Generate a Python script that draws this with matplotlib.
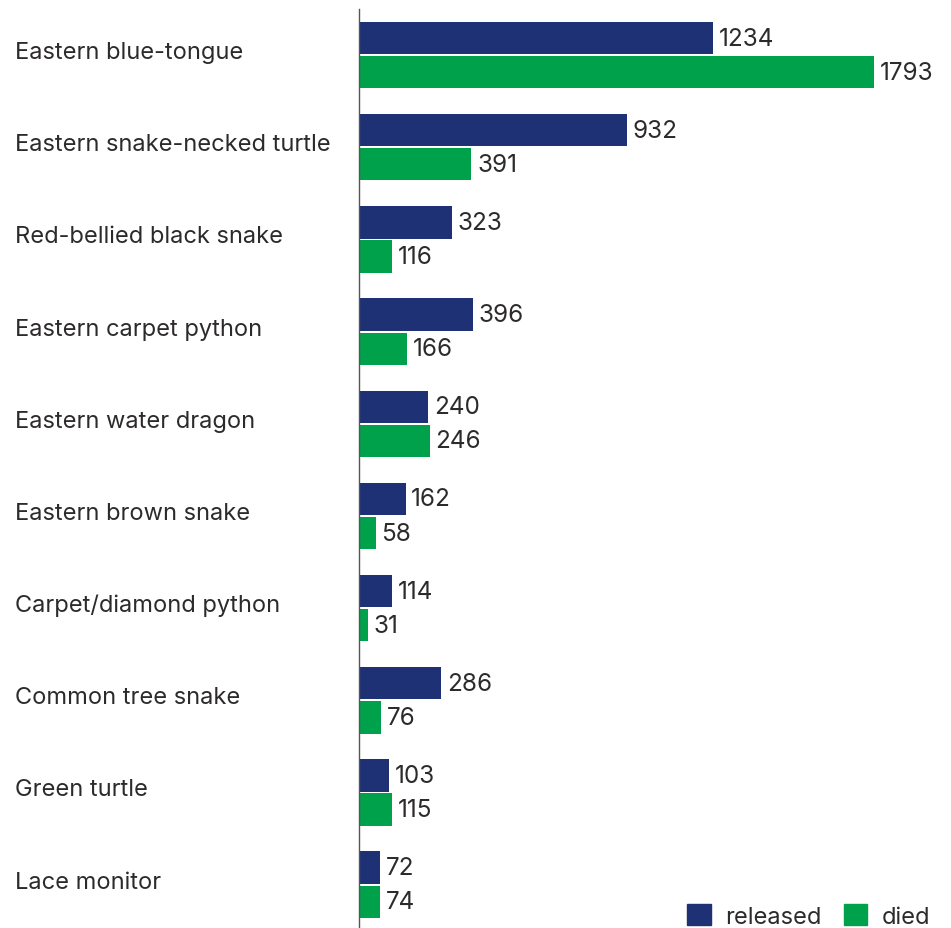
import numpy as np
import matplotlib.pyplot as plt
from matplotlib.patches import Patch

species = ['Eastern blue-tongue', 'Eastern snake-necked turtle', 'Red-bellied black snake',
           'Eastern carpet python', 'Eastern water dragon', 'Eastern brown snake',
           'Carpet/diamond python', 'Common tree snake', 'Green turtle', 'Lace monitor']
released = [1234, 932, 323, 396, 240, 162, 114, 286, 103, 72]
died = [1793, 391, 116, 166, 246, 58, 31, 76, 115, 74]

navy = '#1e3175'
green = '#00a14b'
txt = '#2d2a2a'

plt.rcParams['font.family'] = ['Inter', 'DejaVu Sans']

fig = plt.figure(figsize=(9.51, 9.29), dpi=100)
W, H = 951, 929
ax = fig.add_axes([359 / W, 0, (W - 359) / W, (929 - 10) / H])

y = np.arange(len(species))
h = 0.35
off = 0.185
ax.barh(y - off, released, height=h, color=navy)
ax.barh(y + off, died, height=h, color=green)

for yi, r, d in zip(y, released, died):
    ax.text(r + 20, yi - off, str(r), va='center', ha='left', fontsize=17.5, color=txt)
    ax.text(d + 20, yi + off, str(d), va='center', ha='left', fontsize=17.5, color=txt)

ax.set_xlim(0, 2061)
ax.set_ylim(9.47, -0.5)
ax.set_xticks([])
ax.set_yticks(y - 0.06)
ax.set_yticklabels(species, fontsize=17, color=txt)
for lab in ax.get_yticklabels():
    lab.set_horizontalalignment('left')
ax.tick_params(axis='y', length=0, pad=(359 - 15) * 72 / 100)

for s in ['top', 'right', 'bottom']:
    ax.spines[s].set_visible(False)
ax.spines['left'].set_color('#555555')
ax.spines['left'].set_linewidth(1)

handles = [Patch(color=navy, label='released'), Patch(color=green, label='died')]
leg = fig.legend(handles=handles, loc='lower right', bbox_to_anchor=(930 / W, 0.0), ncol=2,
                 frameon=False, fontsize=17, handlelength=1.0, handleheight=1.0,
                 columnspacing=0.95, handletextpad=0.6, borderaxespad=0.0,
                 borderpad=0.0)
for t in leg.get_texts():
    t.set_color(txt)

fig.savefig('out.png', dpi=100)
